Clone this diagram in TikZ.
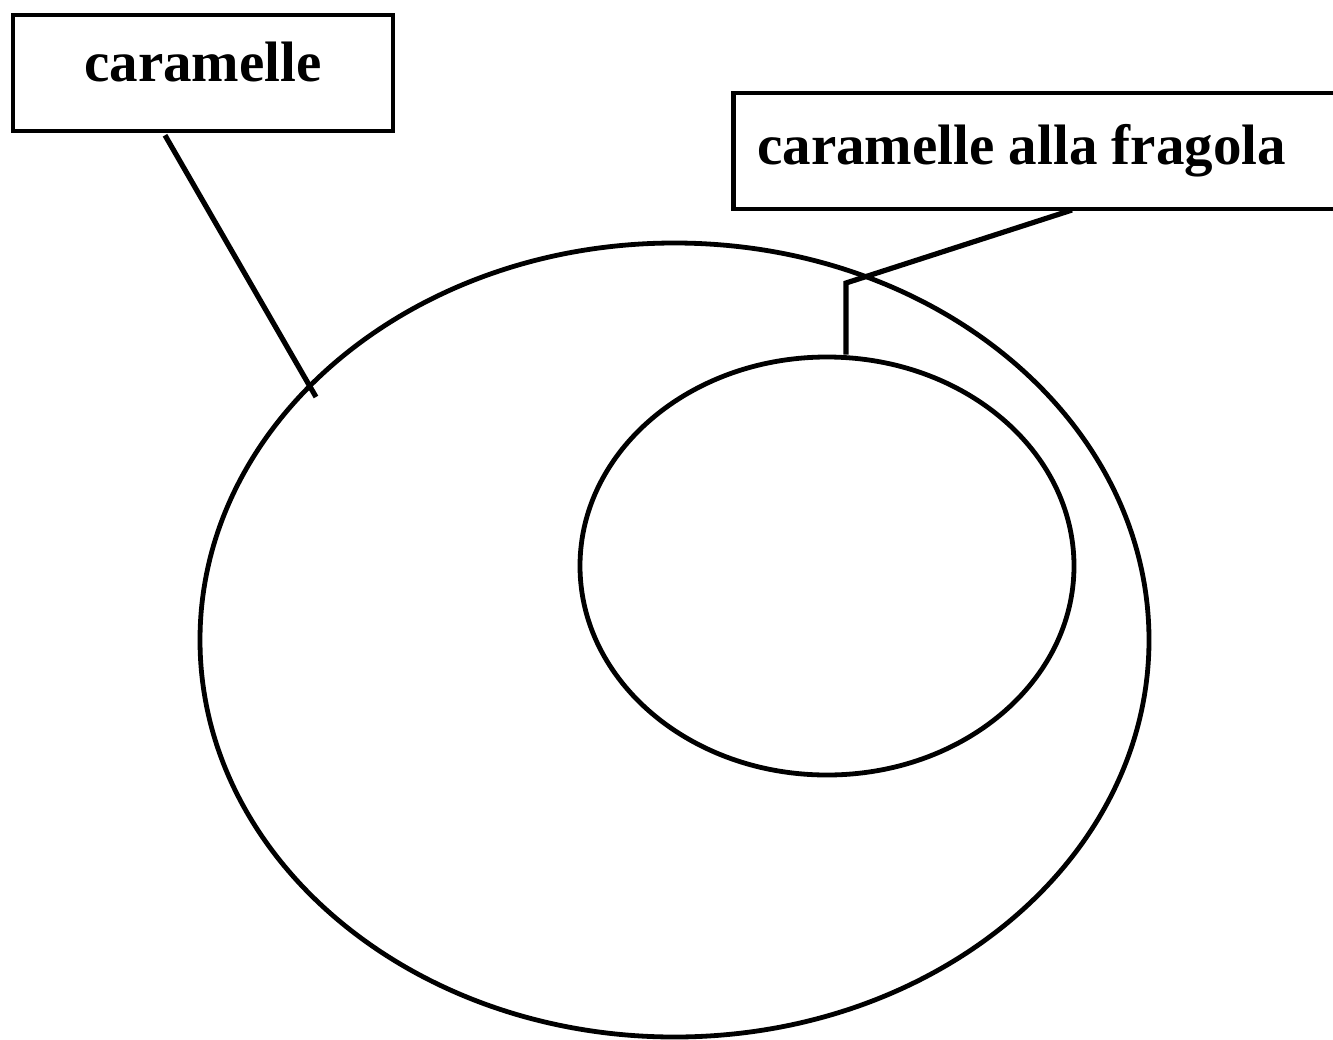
\documentclass[tikz,border=0pt]{standalone}
\usepackage{fontspec}
\setmainfont{Liberation Serif}
\usetikzlibrary{shapes.geometric,calc}
\begin{document}
\begin{tikzpicture}[x=1pt,y=-1pt,
  labelbox/.style={draw,line width=4.5pt,rectangle,inner sep=0pt,
    font=\fontsize{57}{60}\selectfont\bfseries},
  setshape/.style={draw,line width=4.8pt,ellipse,inner sep=0pt},
  connector/.style={line width=5.2pt}]
\useasboundingbox (0,0) rectangle (1333,1039);
\node[labelbox,minimum width=380,minimum height=116] (box1) at (203,73) {\raisebox{22pt}{caramelle}};
\node[labelbox,minimum height=116,inner xsep=24pt,anchor=west] (box2) at (731,151) {\raisebox{9pt}{caramelle alla fragola}\hspace*{40pt}};
\node[setshape,minimum width=949,minimum height=794] (outer) at (674.5,640) {};
\node[setshape,minimum width=494,minimum height=418] (inner) at (827,566) {};
\coordinate (c1) at ($(box1.south)+(-38,2)$);
\coordinate (e1) at (316,397);
\coordinate (c2) at (1072,210);
\coordinate (bend) at (846,283);
\draw[connector] (c1) -- (e1);
\draw[connector] (c2) -- (bend) -- (bend |- inner.north);
\end{tikzpicture}
\end{document}
